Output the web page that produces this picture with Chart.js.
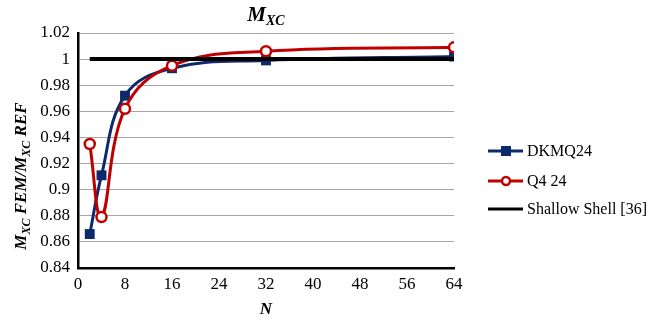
<!DOCTYPE html>
<html>
<head>
<meta charset="utf-8">
<script src="https://cdn.jsdelivr.net/npm/chart.js@4"></script>
<style>
  html, body { margin: 0; padding: 0; background: #fff; }
  #wrap { width: 653px; height: 322px; position: relative; }
</style>
</head>
<body>
<div id="wrap"><canvas id="myChart"></canvas></div>
<script>
"use strict"

// data
const meshN = [2, 4, 8, 16, 32, 64];
const dkmq24 = [0.866, 0.911, 0.972, 0.993, 0.999, 1.002];
const q424 = [0.935, 0.879, 0.962, 0.995, 1.006, 1.009];
const shallowShell = [1, 1, 1, 1, 1, 1];
const seriesNames = ["DKMQ24", "Q4 24", "Shallow Shell [36]"];
const xTicks = [0, 8, 16, 24, 32, 40, 48, 56, 64];
const yTicks = [0.84, 0.86, 0.88, 0.9, 0.92, 0.94, 0.96, 0.98, 1, 1.02];

const navy = "#0c2a6a";
const red = "#c00000";
const serif = "'Liberation Serif', 'Times New Roman', serif";

function toPoints(ys) {
    let pts = [];
    for (let i = 0; i < meshN.length; i++) {
        pts.push({ x: meshN[i], y: ys[i] });
    }
    return pts;
}

// draw text pieces with subscripts, left to right
function drawPieces(ctx, pieces, x, y) {
    let cx = x;
    for (let p of pieces) {
        ctx.font = p.font;
        ctx.fillText(p.t, cx, y + (p.dy || 0));
        cx += ctx.measureText(p.t).width;
    }
}
function piecesWidth(ctx, pieces) {
    let w = 0;
    for (let p of pieces) {
        ctx.font = p.font;
        w += ctx.measureText(p.t).width;
    }
    return w;
}

const textPlugin = {
    id: "textPlugin",
    afterDraw(chart) {
        const ctx = chart.ctx;
        const area = chart.chartArea;
        ctx.save();
        ctx.fillStyle = "#000";
        ctx.textBaseline = "alphabetic";
        ctx.textAlign = "left";

        // title
        const big = "bold italic 21px " + serif;
        const bigSub = "bold italic 14px " + serif;
        const title = [{ t: "M", font: big }, { t: "XC", font: bigSub, dy: 4 }];
        const tw = piecesWidth(ctx, title);
        drawPieces(ctx, title, (area.left + area.right) / 2 - tw / 2, 21);

        // y axis title
        const f = "bold italic 17px " + serif;
        const fs = "bold italic 12px " + serif;
        const ytitle = [
            { t: "M", font: f }, { t: "XC", font: fs, dy: 4 }, { t: " FEM/", font: f },
            { t: "M", font: f }, { t: "XC", font: fs, dy: 4 }, { t: " REF", font: f }
        ];
        const yw = piecesWidth(ctx, ytitle);
        ctx.save();
        ctx.translate(26, 176);
        ctx.rotate(-Math.PI / 2);
        drawPieces(ctx, ytitle, -yw / 2, 0);
        ctx.restore();

        // x axis title
        ctx.font = "bold italic 17px " + serif;
        ctx.textAlign = "center";
        ctx.fillText("N", (area.left + area.right) / 2, 314);

        // legend
        const legendY = [151, 181, 209];
        const colors = [navy, red, "#000"];
        for (let i = 0; i < seriesNames.length; i++) {
            const ly = legendY[i];
            ctx.strokeStyle = colors[i];
            ctx.lineWidth = 3;
            ctx.beginPath();
            ctx.moveTo(488, ly);
            ctx.lineTo(523, ly);
            ctx.stroke();
            if (i === 0) {
                ctx.fillStyle = navy;
                ctx.fillRect(501, ly - 5, 10, 10);
            } else if (i === 1) {
                ctx.fillStyle = "#fff";
                ctx.beginPath();
                ctx.arc(506, ly, 4, 0, Math.PI * 2);
                ctx.fill();
                ctx.lineWidth = 2.5;
                ctx.stroke();
            }
            ctx.fillStyle = "#000";
            ctx.textAlign = "left";
            ctx.textBaseline = "middle";
            ctx.font = "16px " + serif;
            ctx.fillText(seriesNames[i], 527, ly + 1);
        }
        ctx.restore();
    }
};

const data = {
    datasets: [
        {
            label: seriesNames[0],
            data: toPoints(dkmq24),
            borderColor: navy,
            backgroundColor: navy,
            borderWidth: 3,
            pointStyle: "rect",
            pointRadius: 7,
            pointBorderWidth: 0,
            showLine: true,
            tension: 0.4,
            order: 3
        },
        {
            label: seriesNames[1],
            data: toPoints(q424),
            borderColor: red,
            backgroundColor: "#fff",
            borderWidth: 3,
            pointStyle: "circle",
            pointRadius: 5,
            pointBorderWidth: 2.5,
            showLine: true,
            tension: 0.4,
            order: 2
        },
        {
            label: seriesNames[2],
            data: toPoints(shallowShell),
            borderColor: "#000",
            borderWidth: 4,
            pointRadius: 0,
            showLine: true,
            tension: 0,
            order: 1
        }
    ]
};

const config = {
    type: "scatter",
    data: data,
    options: {
        responsive: true,
        maintainAspectRatio: false,
        animation: false,
        layout: { padding: { left: 0, right: 199, top: 33, bottom: 0 } },
        plugins: {
            legend: { display: false },
            title: { display: false },
            tooltip: { enabled: false }
        },
        scales: {
            x: {
                type: "linear",
                min: 0,
                max: 64,
                afterBuildTicks: function (axis) {
                    axis.ticks = xTicks.map(v => ({ value: v }));
                },
                afterFit: function (axis) { axis.height = 54; },
                grid: { display: false, drawTicks: false },
                border: { display: true, color: "#000", width: 2.5 },
                ticks: {
                    color: "#000",
                    padding: 6,
                    maxRotation: 0,
                    font: { family: serif, size: 17 }
                }
            },
            y: {
                type: "linear",
                min: 0.84,
                max: 1.02,
                afterBuildTicks: function (axis) {
                    axis.ticks = yTicks.map(v => ({ value: v }));
                },
                afterFit: function (axis) { axis.width = 78; },
                grid: { color: "#a6a6a6", lineWidth: 1, drawTicks: false },
                border: { display: true, color: "#000", width: 2.5 },
                ticks: {
                    color: "#000",
                    padding: 8,
                    font: { family: serif, size: 17 },
                    callback: function (v) { return String(parseFloat(v.toFixed(2))); }
                }
            }
        }
    },
    plugins: [textPlugin]
};

const productChart = new Chart(document.getElementById("myChart"), config);
</script>
</body>
</html>
